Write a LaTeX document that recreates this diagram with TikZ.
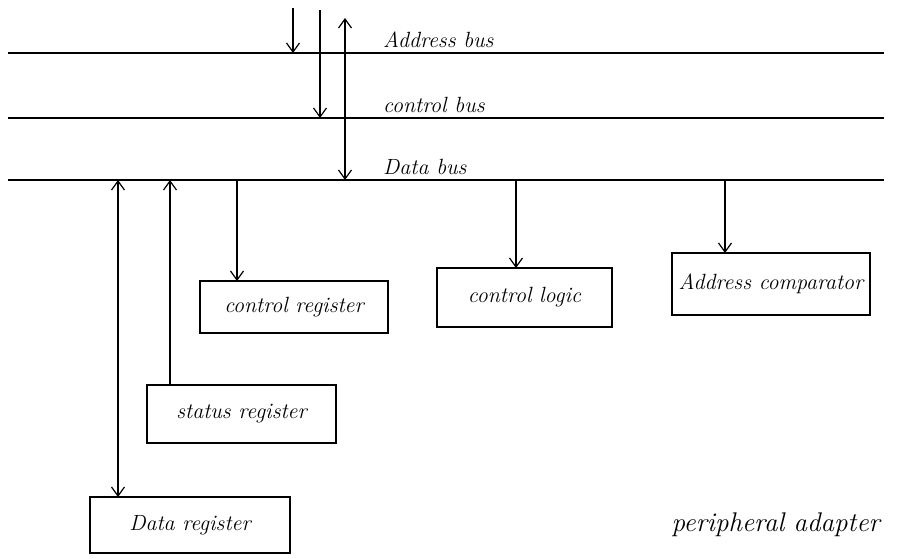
\documentclass[tikz,border=0pt]{standalone}
\usetikzlibrary{arrows.meta}
\newcommand{\handfont}{\fontsize{22}{26}\selectfont\itshape}
\tikzset{
  regbox/.style={draw, line width=1.2pt, anchor=north west, inner sep=0pt, outer sep=0pt, font=\handfont},
  buslabel/.style={anchor=south west, inner sep=2pt, font=\handfont},
  sig/.style={line width=1.2pt, -{Straight Barb[length=9pt,width=13pt]}},
  sigboth/.style={line width=1.2pt, {Straight Barb[length=9pt,width=13pt]}-{Straight Barb[length=9pt,width=13pt]}},
}
\begin{document}
\begin{tikzpicture}[x=1pt, y=-1pt]
    \useasboundingbox (0,0) rectangle (920,558);
    % Barramentos: y/nome/rotulo
    \foreach \y/\name/\lbl [count=\i] in {53/abus/{Address bus}, 118/cbus/{control bus}, 180/dbus/{Data bus}} {
        \coordinate (\name-w) at (8,\y);
        \coordinate (\name-e) at (884,\y);
        \draw[line width=1.2pt] (\name-w) -- (\name-e);
        \node[buslabel] (\name-lbl) at (381,\y-3) {\lbl};
    }
    % Registradores e blocos
    \node[regbox, minimum width=188pt, minimum height=52pt] (creg) at (200,281) {control register};
    \node[regbox, minimum width=175pt, minimum height=59pt] (clog) at (437,268) {control logic};
    \node[regbox, minimum width=198pt, minimum height=62pt] (acomp) at (672,253) {Address comparator};
    \node[regbox, minimum width=189pt, minimum height=58pt] (sreg) at (147,385) {status register};
    \node[regbox, minimum width=200pt, minimum height=56pt] (dreg) at (90,497) {Data register};
    \node[anchor=west, font=\fontsize{27}{30}\selectfont\itshape] (title) at (668,525) {peripheral adapter};
    % Sinais vindos de cima
    \coordinate (top1) at (293,8);
    \coordinate (top2) at (320,10);
    \coordinate (top3) at (345,18);
    \draw[sig] (top1) -- (top1 |- abus-w);
    \draw[sig] (top2) -- (top2 |- cbus-w);
    \draw[sigboth] (top3) -- (top3 |- dbus-w);
    % Ligacoes do barramento de dados
    \coordinate (tap1) at (118,180);
    \coordinate (tap2) at (170,180);
    \coordinate (tap3) at (237,180);
    \coordinate (tap4) at (516,180);
    \coordinate (tap5) at (725,180);
    \draw[sigboth] (tap1) -- (tap1 |- dreg.north);
    \draw[sig] (tap2 |- sreg.north) -- (tap2);
    \draw[sig] (tap3) -- (tap3 |- creg.north);
    \draw[sig] (tap4) -- (tap4 |- clog.north);
    \draw[sig] (tap5) -- (tap5 |- acomp.north);
\end{tikzpicture}
\end{document}
